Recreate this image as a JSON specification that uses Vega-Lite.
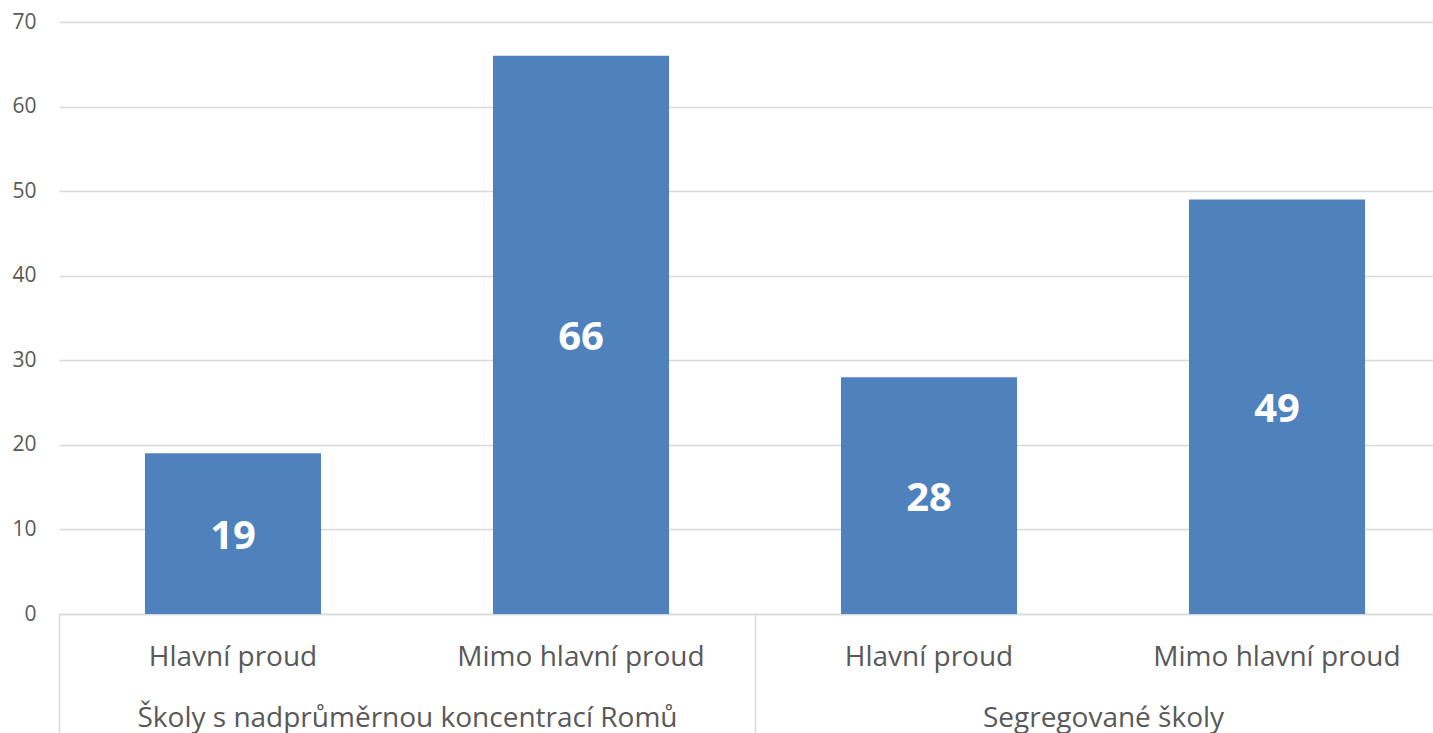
{
  "$schema": "https://vega.github.io/schema/vega-lite/v6.json",
  "autosize": {"type": "none"},
  "padding": {"left": 59, "top": 22, "right": 0, "bottom": 119},
  "width": 1374,
  "height": 592,
  "background": "white",
  "config": {
    "font": "Open Sans",
    "view": {"stroke": null},
    "axis": {"labelColor": "#595959", "labelFont": "Open Sans"}
  },
  "data": {
    "values": [
      {"key": "Hlavní proud|A", "group": "Školy s nadprůměrnou koncentrací Romů", "value": 19},
      {"key": "Mimo hlavní proud|A", "group": "Školy s nadprůměrnou koncentrací Romů", "value": 66},
      {"key": "Hlavní proud|B", "group": "Segregované školy", "value": 28},
      {"key": "Mimo hlavní proud|B", "group": "Segregované školy", "value": 49}
    ]
  },
  "layer": [
    {
      "layer": [
        {
          "mark": {"type": "bar", "color": "#4F81BD"},
          "encoding": {
            "x": {
              "field": "key", "type": "nominal", "sort": null,
              "scale": {"range": [0, 1392], "paddingInner": 0.494, "paddingOuter": 0.247},
              "axis": {
                "title": null, "labelAngle": 0, "orient": "bottom",
                "labelExpr": "split(datum.value, '|')[0]",
                "labelFontSize": 28, "labelBaseline": "alphabetic", "labelPadding": 51,
                "labelLimit": 0,
                "ticks": false, "domainColor": "#d9d9d9", "domainWidth": 1.5, "grid": false
              }
            },
            "y": {
              "field": "value", "type": "quantitative",
              "scale": {"domain": [0, 70], "nice": false},
              "axis": {
                "title": null, "values": [0, 10, 20, 30, 40, 50, 60, 70],
                "domain": false, "ticks": false,
                "gridColor": "#d9d9d9", "gridWidth": 1.5,
                "labelFontSize": 21, "labelPadding": 23
              }
            }
          }
        },
        {
          "transform": [{"calculate": "datum.value / 2", "as": "mid"}],
          "mark": {"type": "text", "color": "white", "fontWeight": "bold", "fontSize": 40, "baseline": "middle", "dy": 3, "font": "Open Sans"},
          "encoding": {
            "x": {"field": "key", "type": "nominal", "sort": null},
            "y": {"field": "mid", "type": "quantitative"},
            "text": {"field": "value", "type": "quantitative"}
          }
        }
      ]
    },
    {
      "data": {"values": [{"gx": 0}, {"gx": 4}]},
      "mark": {"type": "point", "opacity": 0},
      "encoding": {
        "x": {
          "field": "gx", "type": "quantitative",
          "scale": {"domain": [0, 4], "range": [0, 1392], "nice": false, "zero": false},
          "axis": {
            "title": null, "orient": "bottom", "values": [0, 1, 2, 3, 4],
            "labelExpr": "datum.value == 1 ? 'Školy s nadprůměrnou koncentrací Romů' : datum.value == 3 ? 'Segregované školy' : ''",
            "labelFontSize": 28, "labelBaseline": "alphabetic", "labelPadding": -7,
            "labelFlush": false, "labelOverlap": false, "labelLimit": 0,
            "tickSize": 119, "tickWidth": 1.5,
            "tickColor": {"condition": {"test": "datum.value == 1 || datum.value == 3", "value": "transparent"}, "value": "#d9d9d9"},
            "domain": false, "grid": false
          }
        },
        "y": {"datum": 0, "type": "quantitative"}
      }
    }
  ],
  "resolve": {"scale": {"x": "independent"}, "axis": {"x": "independent"}}
}
